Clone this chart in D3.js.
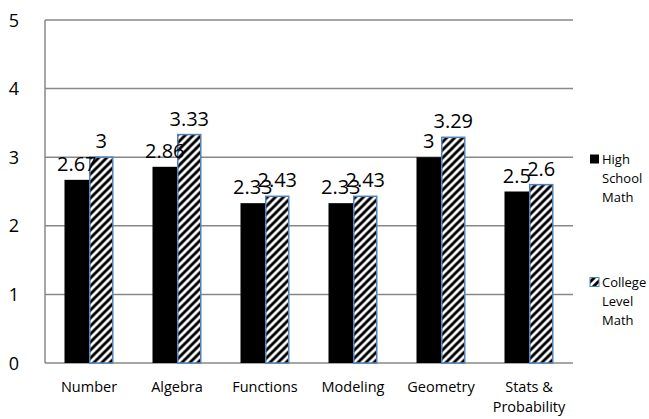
<!DOCTYPE html>
<html><head><meta charset="utf-8">
<script src="https://cdn.jsdelivr.net/npm/d3@7"></script>
<style>body{margin:0;background:#fff;}svg{display:block;font-family:"Open Sans",sans-serif;}</style>
</head><body>
<svg id="chart" width="649" height="419"></svg>
<script>
const categories = ["Number","Algebra","Functions","Modeling","Geometry","Stats & Probability"];
const seriesNames = ["High School Math","College Level Math"];
const highSchool = [2.67,2.86,2.33,2.33,3,2.5];
const college = [3,3.33,2.43,2.43,3.29,2.6];
const yTicks = [0,1,2,3,4,5];

(function(){
const svg = d3.select("#chart");
const mLeft = 45, mRight = 573, mTop = 20, mBottom = 363;

const defs = svg.append("defs");
const pat = defs.append("pattern").attr("id","hatch").attr("patternUnits","userSpaceOnUse")
  .attr("width",8).attr("height",8);
pat.append("rect").attr("width",8).attr("height",8).attr("fill","#fff");
pat.append("path").attr("d","M-2,2 L2,-2 M0,8 L8,0 M6,10 L10,6")
  .attr("stroke","#000").attr("stroke-width",2.9);

const x = d3.scaleBand().domain(categories).range([mLeft,mRight]).paddingInner(0.443).paddingOuter(0.2215);
const xs = d3.scaleBand().domain(seriesNames).range([0,x.bandwidth()]);
const y = d3.scaleLinear().domain([0,5]).range([mBottom,mTop]);

svg.append("g").selectAll("line").data(yTicks).join("line")
  .attr("x1",mLeft).attr("x2",mRight).attr("y1",d=>y(d)).attr("y2",d=>y(d))
  .attr("stroke","#888").attr("stroke-width",1.5);
svg.append("line").attr("x1",mLeft).attr("x2",mLeft).attr("y1",mTop).attr("y2",mBottom)
  .attr("stroke","#888").attr("stroke-width",1.5);

svg.append("g").selectAll("text").data(yTicks).join("text")
  .attr("x",14).attr("y",d=>y(d)+6.5).attr("text-anchor","middle")
  .attr("font-size",18).attr("fill","#000").text(d=>d);

const data = categories.map((c,i)=>({c, vals:[highSchool[i],college[i]]}));
const g = svg.append("g").selectAll("g").data(data).join("g")
  .attr("transform",d=>`translate(${x(d.c)},0)`);

g.append("rect").attr("x",xs(seriesNames[0])).attr("width",xs.bandwidth())
  .attr("y",d=>y(d.vals[0])).attr("height",d=>mBottom-y(d.vals[0])).attr("fill","#000");
g.append("rect").attr("x",xs(seriesNames[1])+0.75).attr("width",xs.bandwidth()-1.5)
  .attr("y",d=>y(d.vals[1])).attr("height",d=>mBottom-y(d.vals[1]))
  .attr("fill","url(#hatch)").attr("stroke","#4f81bd").attr("stroke-width",1.5);

g.append("text").attr("x",xs(seriesNames[0])+xs.bandwidth()/2).attr("y",d=>y(d.vals[0])-9)
  .attr("text-anchor","middle").attr("font-size",20).text(d=>d.vals[0]);
g.append("text").attr("x",xs(seriesNames[1])+xs.bandwidth()/2).attr("y",d=>y(d.vals[1])-9)
  .attr("text-anchor","middle").attr("font-size",20).text(d=>d.vals[1]);

const catLines = {"Stats & Probability":["Stats &","Probability"]};
svg.append("g").selectAll("text").data(categories).join("text")
  .attr("x",d=>x(d)+x.bandwidth()/2).attr("y",392).attr("text-anchor","middle")
  .attr("font-size",14.5).attr("fill","#000")
  .each(function(d){
    const lines = catLines[d] || [d];
    d3.select(this).selectAll("tspan").data(lines).join("tspan")
      .attr("x",x(d)+x.bandwidth()/2).attr("dy",(l,i)=>i?20:0).text(l=>l);
  });

const legend = [["High","School","Math"],["College","Level","Math"]];
const lg = svg.append("g").selectAll("g").data(legend).join("g")
  .attr("transform",(d,i)=>`translate(590,${i?282:159})`);
lg.append("rect").attr("x",0).attr("y",-4.5).attr("width",9).attr("height",9)
  .attr("fill",(d,i)=>i?"url(#hatch)":"#000").attr("stroke",(d,i)=>i?"#4f81bd":"none").attr("stroke-width",1);
lg.append("text").attr("font-size",13).attr("fill","#000")
  .selectAll("tspan").data(d=>d).join("tspan").attr("x",12).attr("y",(l,i)=>5+i*19).text(l=>l);
})();
</script>
</body></html>
